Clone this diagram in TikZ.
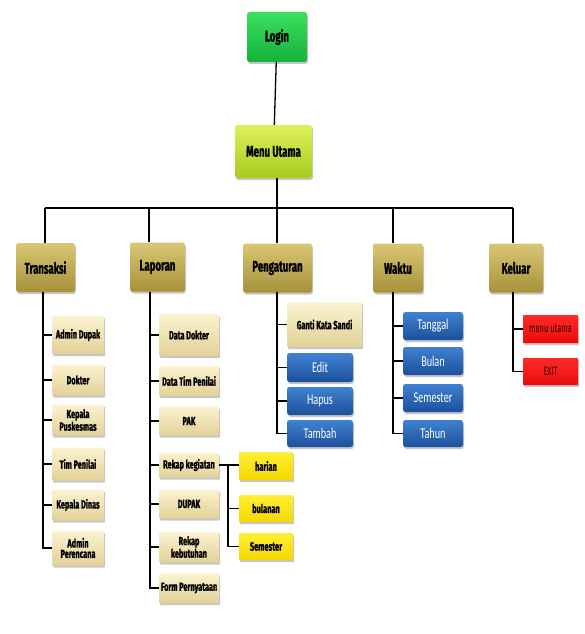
\documentclass[tikz,border=0pt]{standalone}
\usepackage{fontspec}
\setmainfont{Fira Sans}[FakeStretch=0.62, BoldFeatures={FakeBold=1.2}]
\newfontfamily\bluefont{Carlito}[FakeStretch=0.68]
\usetikzlibrary{shadows}
\definecolor{lgA}{HTML}{3BE060}
\definecolor{lgB}{HTML}{14B23A}
\definecolor{muA}{HTML}{DDF05A}
\definecolor{muB}{HTML}{A8CC1E}
\definecolor{khA}{HTML}{D8C775}
\definecolor{khB}{HTML}{A8923A}
\definecolor{crA}{HTML}{FBF3D2}
\definecolor{crB}{HTML}{E2D196}
\definecolor{blA}{HTML}{3F82D2}
\definecolor{blB}{HTML}{1D4F9A}
\definecolor{ylA}{HTML}{FFEE33}
\definecolor{ylB}{HTML}{F5D800}
\definecolor{rdA}{HTML}{FF2A2A}
\definecolor{rdB}{HTML}{E80C0C}
\tikzset{
  box/.style={rounded corners=2.5pt, align=center, inner sep=1pt,
    drop shadow={opacity=0.45, shadow xshift=1pt, shadow yshift=-2pt}},
  loginbox/.style={box, top color=lgA, bottom color=lgB, minimum width=60pt, minimum height=50pt,
    font=\bfseries\fontsize{15.5}{16}\selectfont},
  menubox/.style={box, top color=muA, bottom color=muB, minimum width=77pt, minimum height=53pt,
    font=\bfseries\fontsize{15.5}{16}\selectfont},
  headbox/.style={box, top color=khA, bottom color=khB, minimum height=49pt,
    font=\bfseries\fontsize{15.5}{16}\selectfont},
  creambox/.style={box, rounded corners=1pt, top color=crA, bottom color=crB, minimum height=31pt,
    font=\bfseries\fontsize{11.8}{10.5}\selectfont},
  bluebox/.style={box, top color=blA, bottom color=blB, text=white, minimum width=66pt, minimum height=28pt,
    font=\bluefont\fontsize{15}{15}\selectfont},
  yelbox/.style={box, rounded corners=0.5pt, top color=ylA, bottom color=ylB, minimum width=54pt, minimum height=27pt,
    font=\bfseries\fontsize{12}{12}\selectfont},
  redbox/.style={box, rounded corners=0.5pt, top color=rdA, bottom color=rdB, minimum width=55pt, minimum height=28pt,
    text=black!75!red, font=\fontsize{12}{12}\selectfont},
  conn/.style={line width=1.3pt, black},
}
\begin{document}
\begin{tikzpicture}[x=1pt,y=-1pt]
\useasboundingbox (0,0) rectangle (584,634);
% top
\node[loginbox] (login) at (277,37) {Login};
\node[menubox] (menu) at (273.5,151.5) {Menu Utama};
% level 2
\node[headbox, minimum width=59pt] (trans) at (45.5,267.5) {Transaksi};
\node[headbox, minimum width=55pt] (lap) at (157.5,267) {Laporan};
\node[headbox, minimum width=69pt] (peng) at (277.5,268) {Pengaturan};
\node[headbox, minimum width=50pt] (waktu) at (398,268) {Waktu};
\node[headbox, minimum width=54pt] (kel) at (516,268) {Keluar};
% Transaksi children
\node[creambox, minimum width=52pt, minimum height=38pt] (t1) at (78,335) {Admin Dupak};
\node[creambox, minimum width=52pt] (t2) at (78,380) {Dokter};
\node[creambox, minimum width=52pt] (t3) at (78,420) {Kepala\\Puskesmas};
\node[creambox, minimum width=52pt, minimum height=33pt] (t4) at (78,464) {Tim Penilai};
\node[creambox, minimum width=52pt] (t5) at (78,505) {Kepala Dinas};
\node[creambox, minimum width=52pt, minimum height=35pt] (t6) at (78,548) {Admin\\Perencana};
% Laporan children
\node[creambox, minimum width=60pt, minimum height=42pt] (l1) at (189,335) {Data Dokter};
\node[creambox, minimum width=60pt, minimum height=30pt] (l2) at (189,381) {Data Tim Penilai};
\node[creambox, minimum width=60pt, minimum height=29pt] (l3) at (189,421) {PAK};
\node[creambox, minimum width=60pt, minimum height=25pt] (l4) at (189,465) {Rekap kegiatan};
\node[creambox, minimum width=60pt, minimum height=29pt] (l5) at (189,504) {DUPAK};
\node[creambox, minimum width=60pt, minimum height=31pt] (l6) at (189,547) {Rekap\\kebutuhan};
\node[creambox, minimum width=60pt, minimum height=30pt] (l7) at (189,588) {Form Pernyataan};
% Rekap kegiatan children
\node[yelbox, minimum height=28pt] (y1) at (266,466) {harian};
\node[yelbox] (y2) at (266,508.5) {bulanan};
\node[yelbox] (y3) at (266,546.5) {Semester};
% Pengaturan children
\node[creambox, minimum width=75pt, minimum height=45pt] (p1) at (324.5,324.5) {Ganti Kata Sandi};
\node[bluebox, minimum height=29pt] (p2) at (320,367.5) {Edit};
\node[bluebox] (p3) at (320,401) {Hapus};
\node[bluebox, minimum height=27pt] (p4) at (320,433.5) {Tambah};
% Waktu children
\node[bluebox, minimum width=60pt] (w1) at (433,326) {Tanggal};
\node[bluebox, minimum width=60pt] (w2) at (433,361) {Bulan};
\node[bluebox, minimum width=60pt] (w3) at (433,398) {Semester};
\node[bluebox, minimum width=60pt, minimum height=27pt] (w4) at (433,433.5) {Tahun};
% Keluar children
\node[redbox] (k1) at (550.5,329) {menu utama};
\node[redbox, minimum height=27pt] (k2) at (550.5,371.5) {EXIT};
% bus
\coordinate (bL) at (45,208);
\coordinate (bR) at (513,208);
\coordinate (dT) at (45,208);
\coordinate (dL) at (149,208);
\coordinate (dP) at (277,208);
\coordinate (dW) at (393,208);
\coordinate (dK) at (513,208);
\draw[conn] (login) -- (menu);
\draw[conn] (menu.south -| dP) -- (dP);
\draw[conn, line width=1.8pt] (bL) -- (bR);
\draw[conn] (dT) -- (dT |- trans.north);
\draw[conn] (dL) -- (dL |- lap.north);
\draw[conn] (dP) -- (dP |- peng.north);
\draw[conn] (dW) -- (dW |- waktu.north);
\draw[conn] (dK) -- (dK |- kel.north);
% trunks
\coordinate (tT) at (43,292);
\coordinate (tL) at (150,292);
\coordinate (tP) at (277,292);
\coordinate (tW) at (393,292);
\coordinate (tK) at (513,292);
\draw[conn] (tT) |- (t6.west);
\foreach \c in {t1,t2,t3,t4,t5} \draw[conn] (\c.west -| tT) -- (\c.west);
\draw[conn] (tL) |- (l7.west);
\foreach \c in {l1,l2,l3,l4,l5,l6} \draw[conn] (\c.west -| tL) -- (\c.west);
\draw[conn] (tP) |- (p4.west);
\foreach \c in {p1,p2,p3} \draw[conn] (\c.west -| tP) -- (\c.west);
\draw[conn] (tW) |- (w4.west);
\foreach \c in {w1,w2,w3} \draw[conn] (\c.west -| tW) -- (\c.west);
\draw[conn] (tK) |- (k2.west);
\draw[conn] (k1.west -| tK) -- (k1.west);
% rekap kegiatan
\coordinate (tR) at (228,465);
\draw[conn] (l4.east) -- (y1.west |- l4.east);
\draw[conn] (tR) |- (y3.west);
\draw[conn] (y2.west -| tR) -- (y2.west);
\end{tikzpicture}
\end{document}
